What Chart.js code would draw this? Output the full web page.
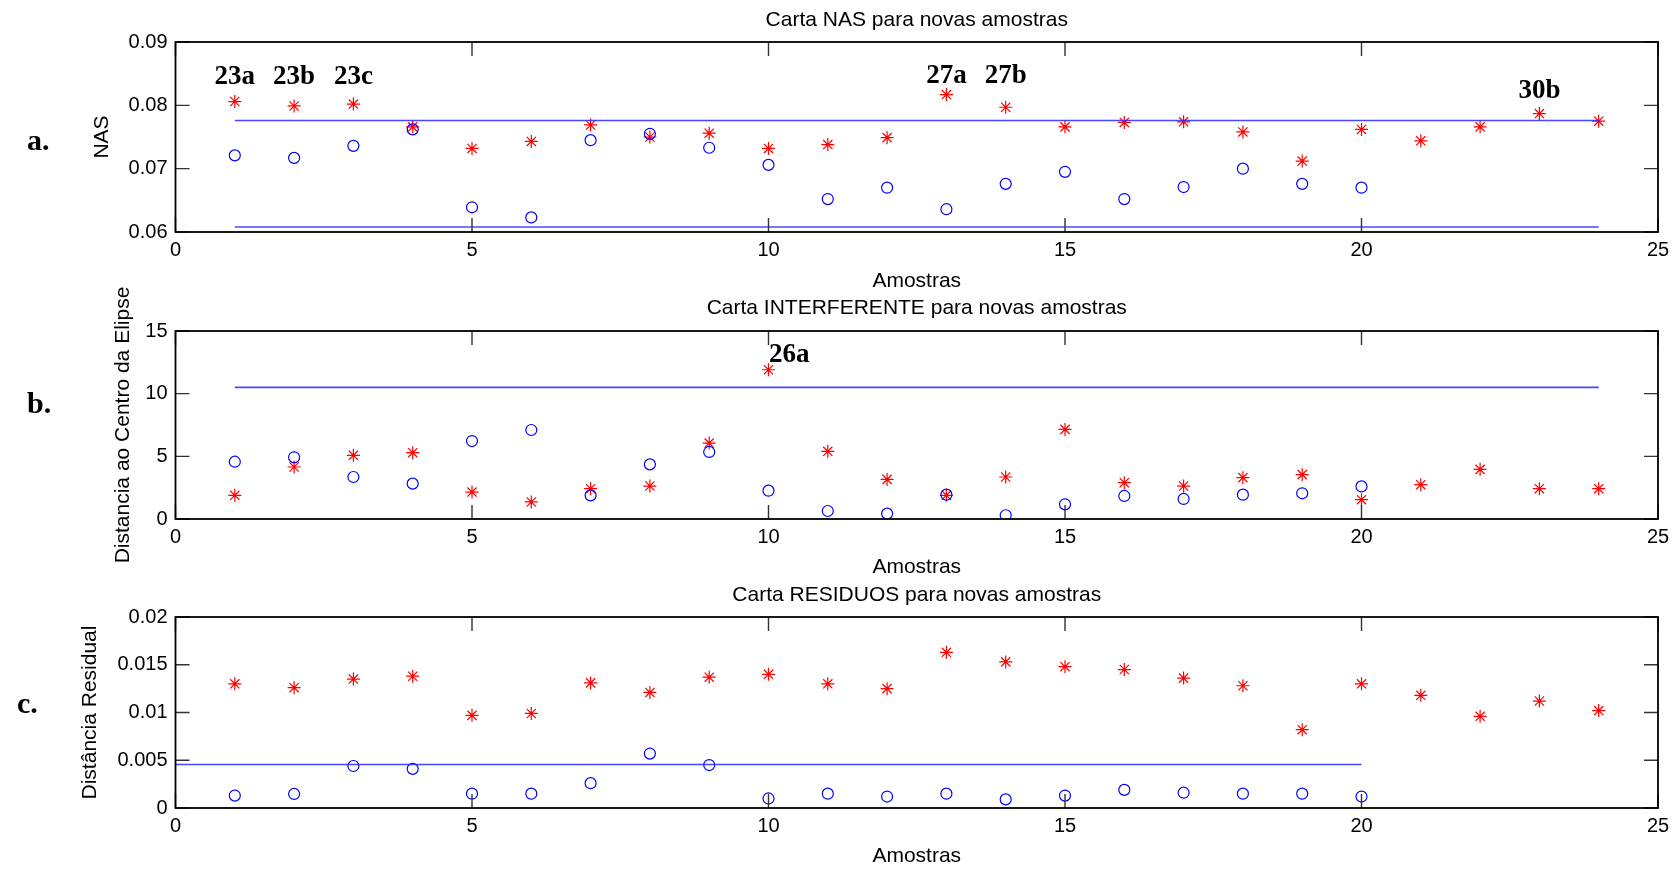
<!DOCTYPE html>
<html>
<head>
<meta charset="utf-8">
<title>Cartas NAS / INTERFERENTE / RESIDUOS</title>
<script src="https://cdn.jsdelivr.net/npm/chart.js@4.4.1/dist/chart.umd.min.js"></script>
<style>
  body { margin: 0; background: #fff; }
  #wrap { position: relative; width: 1678px; height: 869px; overflow: hidden; }
  canvas { position: absolute; left: 0; }
  .panel { position: absolute; font: bold 30px "Liberation Serif", "Times New Roman", serif; line-height: 1; color: #000; }
</style>
</head>
<body>
<div id="wrap">
  <canvas id="nasChart" width="1678" height="296" style="top:0px"></canvas>
  <canvas id="intChart" width="1678" height="310" style="top:270px"></canvas>
  <canvas id="resChart" width="1678" height="289" style="top:580px"></canvas>
  <div class="panel" style="left:27px;top:125px">a.</div>
  <div class="panel" style="left:27px;top:388px">b.</div>
  <div class="panel" style="left:17px;top:688px">c.</div>
</div>
<script>
// amostras (eixo x)
const calSamples = [1, 2, 3, 4, 5, 6, 7, 8, 9, 10, 11, 12, 13, 14, 15, 16, 17, 18, 19, 20];
const newSamples = [1, 2, 3, 4, 5, 6, 7, 8, 9, 10, 11, 12, 13, 14, 15, 16, 17, 18, 19, 20, 21, 22, 23, 24];
const xTicks = [0, 5, 10, 15, 20, 25];
const xTickLabels = ["0", "5", "10", "15", "20", "25"];

// carta NAS
const nasCal = [0.0721, 0.0717, 0.0736, 0.0762, 0.0639, 0.0623, 0.0745, 0.0755, 0.0733, 0.0706,
                0.0652, 0.0670, 0.0636, 0.0676, 0.0695, 0.0652, 0.0671, 0.0700, 0.0676, 0.0670];
const nasNew = [0.0806, 0.0799, 0.0802, 0.0766, 0.0732, 0.0743, 0.0769, 0.0750, 0.0756, 0.0732,
                0.0738, 0.0749, 0.0817, 0.0797, 0.0766, 0.0773, 0.0774, 0.0758, 0.0712, 0.0762,
                0.0744, 0.0766, 0.0787, 0.0775];
const nasLimits = [0.0776, 0.0608];
const nasLimitX = [1, 24];
const nasTicks = [0.06, 0.07, 0.08, 0.09];
const nasTickLabels = ["0.06", "0.07", "0.08", "0.09"];
const nasTags = ["23a", "23b", "23c", "27a", "27b", "30b"];
const nasTagX = [1, 2, 3, 13, 14, 23];
const nasTagY = [0.0844, 0.0844, 0.0844, 0.0846, 0.0846, 0.0823];

// carta INTERFERENTE
const intCal = [4.57, 4.92, 3.35, 2.82, 6.22, 7.10, 1.89, 4.36, 5.35, 2.26,
                0.64, 0.43, 1.94, 0.30, 1.17, 1.84, 1.60, 1.94, 2.05, 2.60];
const intNew = [1.89, 4.15, 5.08, 5.29, 2.15, 1.36, 2.42, 2.63, 6.06, 11.91,
                5.40, 3.16, 1.89, 3.35, 7.15, 2.90, 2.63, 3.30, 3.54, 1.54,
                2.74, 3.96, 2.42, 2.42];
const intLimits = [10.5];
const intLimitX = [1, 24];
const intTicks = [0, 5, 10, 15];
const intTickLabels = ["0", "5", "10", "15"];
const intTags = ["26a"];
const intTagX = [10.35];
const intTagY = [13.1];

// carta RESIDUOS
const resCal = [0.0013, 0.00147, 0.0044, 0.0041, 0.0015, 0.0015, 0.0026, 0.0057, 0.0045, 0.0010,
                0.0015, 0.0012, 0.0015, 0.0009, 0.0013, 0.0019, 0.0016, 0.0015, 0.0015, 0.0012];
const resNew = [0.0130, 0.0126, 0.0135, 0.0138, 0.0097, 0.0099, 0.0131, 0.0121, 0.0137, 0.0140,
                0.0130, 0.0125, 0.0163, 0.0153, 0.0148, 0.0145, 0.0136, 0.0128, 0.0082, 0.0130,
                0.0118, 0.0096, 0.0112, 0.0102];
const resLimits = [0.00455];
const resLimitX = [0, 20];
const resTicks = [0, 0.005, 0.01, 0.015, 0.02];
const resTickLabels = ["0", "0.005", "0.01", "0.015", "0.02"];

Chart.defaults.font.family = '"Liberation Sans", Arial, sans-serif';
Chart.defaults.font.size = 20;
Chart.defaults.color = "#000";

// caixa estilo matlab com ticks para dentro nos 4 lados
const boxPlugin = {
  id: "matlabBox",
  afterDraw(chart) {
    const { ctx, chartArea: a, scales: { x, y } } = chart;
    const len = 14;
    ctx.save();
    ctx.strokeStyle = "#333";
    ctx.lineWidth = 1.4;
    ctx.beginPath();
    x.ticks.forEach(t => {
      const px = x.getPixelForValue(t.value);
      ctx.moveTo(px, a.bottom); ctx.lineTo(px, a.bottom - len);
      ctx.moveTo(px, a.top); ctx.lineTo(px, a.top + len);
    });
    y.ticks.forEach(t => {
      const py = y.getPixelForValue(t.value);
      ctx.moveTo(a.left, py); ctx.lineTo(a.left + len, py);
      ctx.moveTo(a.right, py); ctx.lineTo(a.right - len, py);
    });
    ctx.stroke();
    ctx.strokeStyle = "#000";
    ctx.lineWidth = 1.8;
    ctx.strokeRect(a.left, a.top, a.right - a.left, a.bottom - a.top);
    ctx.restore();
  }
};

const tagPlugin = {
  id: "tags",
  afterDatasetsDraw(chart, args, opts) {
    if (!opts.text) return;
    const { ctx, scales: { x, y } } = chart;
    ctx.save();
    ctx.font = 'bold 27px "Liberation Serif", "Times New Roman", serif';
    ctx.fillStyle = "#000";
    ctx.textAlign = "center";
    ctx.textBaseline = "middle";
    opts.text.forEach((s, i) => {
      ctx.fillText(s, x.getPixelForValue(opts.x[i]), y.getPixelForValue(opts.y[i]));
    });
    ctx.restore();
  }
};

function makePanel(id, p) {
  const datasets = [];
  p.limits.forEach(v => {
    datasets.push({
      type: "line",
      data: p.limitX.map(xv => ({ x: xv, y: v })),
      borderColor: "rgba(40,40,255,0.85)",
      borderWidth: 1.6,
      pointRadius: 0,
      showLine: true,
      fill: false
    });
  });
  datasets.push({
    data: calSamples.map((xv, i) => ({ x: xv, y: p.cal[i] })),
    pointStyle: "circle",
    pointRadius: 5.5,
    borderColor: "#0000ff",
    backgroundColor: "rgba(0,0,0,0)",
    borderWidth: 1.2
  });
  datasets.push({
    data: newSamples.map((xv, i) => ({ x: xv, y: p.neu[i] })),
    pointStyle: "star",
    pointRadius: 6.5,
    borderColor: "#ff0000",
    backgroundColor: "#ff0000",
    borderWidth: 1.2
  });

  return new Chart(document.getElementById(id), {
    type: "scatter",
    data: { datasets },
    plugins: [boxPlugin, tagPlugin],
    options: {
      responsive: false,
      animation: false,
      devicePixelRatio: 1,
      layout: { padding: { left: 0, right: 20, top: 0, bottom: 0 } },
      plugins: {
        legend: { display: false },
        tooltip: { enabled: false },
        title: {
          display: true,
          text: p.title,
          fullSize: false,
          font: { size: 21, weight: "normal" },
          padding: { top: p.titleTop, bottom: p.titleBottom }
        },
        tags: { text: p.tags, x: p.tagX, y: p.tagY }
      },
      scales: {
        x: {
          type: "linear",
          min: 0,
          max: 25,
          afterBuildTicks: s => { s.ticks = xTicks.map(v => ({ value: v })); },
          afterFit: s => { s.height = p.xHeight; },
          ticks: { padding: 6.4, callback: (v, i) => xTickLabels[i] },
          grid: { display: false, drawTicks: false },
          border: { display: false },
          title: { display: true, text: "Amostras", font: { size: 21 }, padding: { top: 0, bottom: p.xTitleBottom } }
        },
        y: {
          type: "linear",
          min: p.yTicks[0],
          max: p.yTicks[p.yTicks.length - 1],
          afterBuildTicks: s => { s.ticks = p.yTicks.map(v => ({ value: v })); },
          afterFit: s => { s.width = 175.5; },
          ticks: { padding: 8, callback: (v, i) => p.yLabels[i] },
          grid: { display: false, drawTicks: false },
          border: { display: false },
          title: { display: true, text: p.yTitle, font: { size: 21 }, padding: { top: p.yTitleTop, bottom: 0 } }
        }
      }
    }
  });
}

makePanel("nasChart", {
  title: "Carta NAS para novas amostras",
  yTitle: "NAS",
  cal: nasCal, neu: nasNew, limits: nasLimits, limitX: nasLimitX,
  yTicks: nasTicks, yLabels: nasTickLabels,
  tags: nasTags, tagX: nasTagX, tagY: nasTagY,
  titleTop: 7.4, titleBottom: 9.4, xHeight: 64, xTitleBottom: 2.4, yTitleTop: 89.4
});

makePanel("intChart", {
  title: "Carta INTERFERENTE para novas amostras",
  yTitle: "Distancia ao Centro da Elipse",
  cal: intCal, neu: intNew, limits: intLimits, limitX: intLimitX,
  yTicks: intTicks, yLabels: intTickLabels,
  tags: intTags, tagX: intTagX, tagY: intTagY,
  titleTop: 25.4, titleBottom: 10.4, xHeight: 61, xTitleBottom: 0.4, yTitleTop: 110.4
});

makePanel("resChart", {
  title: "Carta RESIDUOS para novas amostras",
  yTitle: "Distância Residual",
  cal: resCal, neu: resNew, limits: resLimits, limitX: resLimitX,
  yTicks: resTicks, yLabels: resTickLabels,
  tags: null, tagX: null, tagY: null,
  titleTop: 2.4, titleBottom: 9.4, xHeight: 61, xTitleBottom: 0.4, yTitleTop: 77.4
});
</script>
</body>
</html>
